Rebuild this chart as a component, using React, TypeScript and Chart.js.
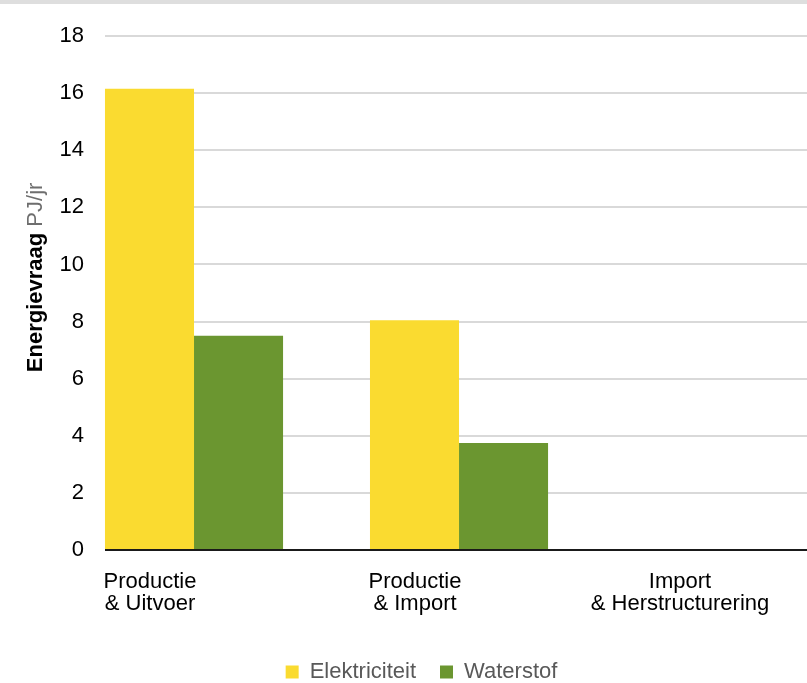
import React, { useEffect, useRef } from 'react';
import { Chart, registerables } from 'chart.js';

Chart.register(...registerables);

const categories: string[][] = [
  ['Productie', '& Uitvoer'],
  ['Productie', '& Import'],
  ['Import', '& Herstructurering'],
];
const elektriciteit = [16.15, 8.05, 0];
const waterstof = [7.5, 3.75, 0];
const seriesNames = ['Elektriciteit', 'Waterstof'];
const yMin = 0;
const yMax = 18;
const yStep = 2;
const yTitleMain = 'Energievraag';
const yTitleUnit = 'PJ/jr';

const FONT = "'Liberation Sans', Arial, sans-serif";

const xSpread = {
  id: 'xSpread',
  afterLayout(chart: any) {
    const s = chart.scales.x;
    const ca = chart.chartArea;
    const w = (ca.right - ca.left) * 1.1325;
    s.left = ca.left - w * 0.0547;
    s.right = s.left + w;
    s.width = w;
    s.configure();
  },
};

const yTitle = {
  id: 'yTitle',
  afterDraw(chart: any) {
    const ctx = chart.ctx;
    const ca = chart.chartArea;
    ctx.save();
    ctx.translate(42, ca.top + (ca.bottom - ca.top) * 0.654);
    ctx.rotate(-Math.PI / 2);
    ctx.textAlign = 'left';
    ctx.textBaseline = 'alphabetic';
    ctx.font = `bold 22px ${FONT}`;
    ctx.fillStyle = '#000000';
    ctx.fillText(yTitleMain, 0, 0);
    const w = ctx.measureText(yTitleMain + ' ').width;
    ctx.font = `22px ${FONT}`;
    ctx.fillStyle = '#6e6e6e';
    ctx.fillText(yTitleUnit, w, 0);
    ctx.restore();
  },
};

export default function App() {
  const ref = useRef<HTMLCanvasElement | null>(null);

  useEffect(() => {
    if (!ref.current) return;
    const chart = new Chart(ref.current, {
      type: 'bar',
      data: {
        labels: categories,
        datasets: [
          {
            label: seriesNames[0],
            data: elektriciteit,
            backgroundColor: '#FADB30',
            borderWidth: 0,
          },
          {
            label: seriesNames[1],
            data: waterstof,
            backgroundColor: '#6B9630',
            borderWidth: 0,
          },
        ],
      },
      options: {
        responsive: false,
        animation: false,
        layout: { padding: { top: 36, left: 36, right: 0, bottom: -10 } },
        datasets: { bar: { categoryPercentage: 0.672, barPercentage: 1 } },
        plugins: {
          legend: {
            position: 'bottom',
            labels: {
              boxWidth: 13,
              boxHeight: 13,
              padding: 24,
              color: '#595959',
              font: { family: FONT, size: 22 },
            },
          },
          tooltip: { enabled: false },
        },
        scales: {
          x: {
            grid: { display: false },
            border: { display: false },
            ticks: {
              color: '#000000',
              font: { family: FONT, size: 22, lineHeight: 1 },
              padding: 13,
              labelOffset: -44,
              maxRotation: 0,
              autoSkip: false,
            },
            afterFit(scale: any) {
              scale.height = 87;
            },
          },
          y: {
            min: yMin,
            max: yMax,
            border: { display: false },
            grid: {
              drawTicks: false,
              color: (c: any) => (c.tick && c.tick.value === 0 ? '#1a1a1a' : '#d9d9d9'),
              lineWidth: 2,
            },
            ticks: {
              stepSize: yStep,
              color: '#000000',
              font: { family: FONT, size: 22 },
              padding: 21,
            },
            afterFit(scale: any) {
              scale.width = 69;
            },
          },
        },
      },
      plugins: [xSpread, yTitle],
    });
    return () => chart.destroy();
  }, []);

  return (
    <div style={{ position: 'fixed', left: 0, top: 0, width: 807, height: 683, background: '#ffffff', overflow: 'hidden' }}>
      <canvas ref={ref} width={807} height={683} style={{ width: 807, height: 683, display: 'block' }} />
      <div style={{ position: 'absolute', left: 0, top: 0, width: 807, height: 4, background: '#dedede' }} />
    </div>
  );
}
